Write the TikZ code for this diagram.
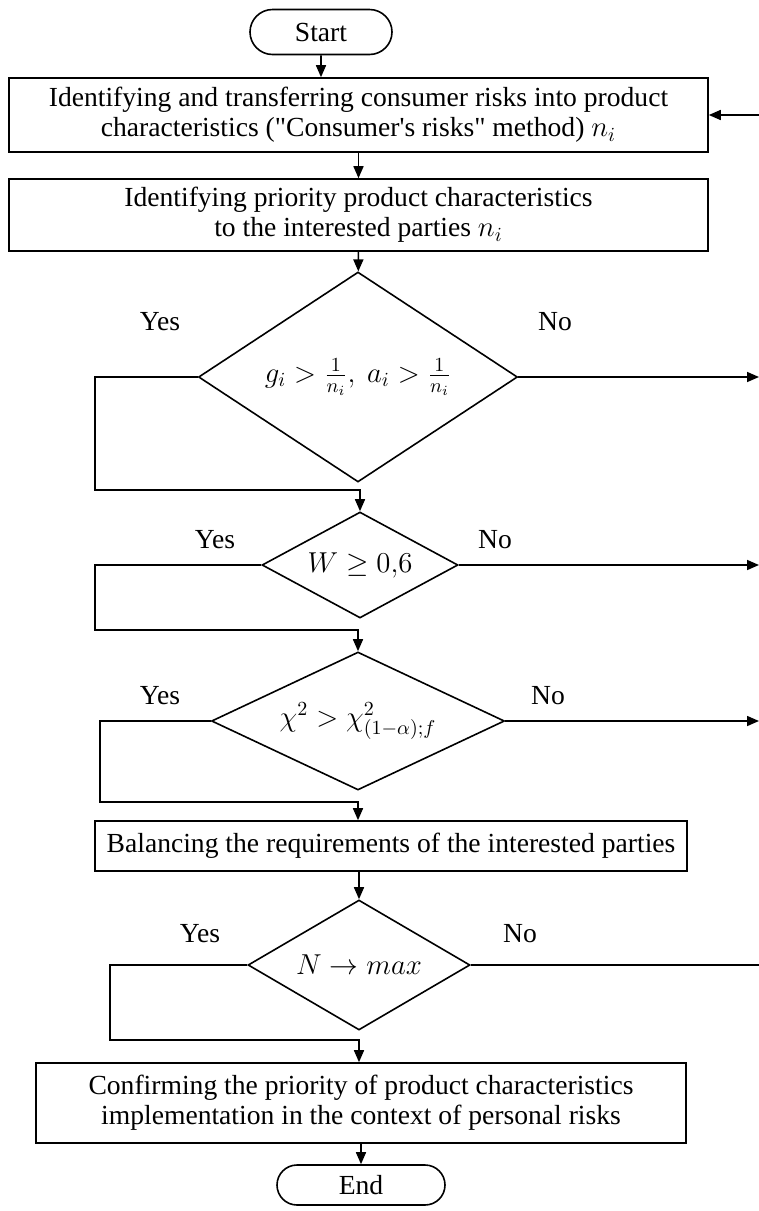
\documentclass[tikz,border=0pt]{standalone}
\usepackage{fontspec}
\setmainfont{Liberation Serif}
\newfontfamily\plainquote{Liberation Serif}
\usetikzlibrary{shapes.geometric,shapes.misc,arrows.meta}

\tikzset{
	arr/.style={line width=0.8pt,-{Triangle[length=6pt,width=5pt]}},
	line/.style={line width=0.8pt},
	procbox/.style={draw,line width=0.8pt,rectangle,align=center,inner sep=0pt},
	decision/.style={draw,line width=0.8pt,diamond,inner sep=0pt},
	terminal/.style={draw,line width=0.8pt,rounded rectangle,inner sep=0pt},
}

\begin{document}
\begin{tikzpicture}[x=0.5pt,y=-0.5pt,font=\fontsize{13.8}{15}\selectfont]
				\useasboundingbox (0,0) rectangle (759,1211);
				
				\node[terminal,minimum width=71pt,minimum height=22.5pt] (start) at (321,32) {Start};
				
				\node[procbox,minimum width=349.5pt,minimum height=37pt] (box1) at (358.5,115)
				{Identifying and transferring consumer risks into product\\characteristics ({\plainquote"Consumer's risks"} method) $n_i$};
				
				\node[procbox,minimum width=349.5pt,minimum height=36pt] (box2) at (358.5,215)
				{Identifying priority product characteristics\\to the interested parties $n_i$};
				
				\node[decision,aspect=1.52,minimum width=159.5pt,minimum height=105pt] (d1) at (358,377)
				{$g_i>\frac{1}{n_i},\ a_i>\frac{1}{n_i}$};
				
				\node[decision,aspect=1.85,minimum width=98pt,minimum height=53pt] (d2) at (360,565) {$W\geq 0{,}6$};
				
				\node[decision,aspect=2.12,minimum width=146.5pt,minimum height=69pt] (d3) at (358,721)
				{$\chi^2>\chi^2_{(1-\alpha);f}$};
				
				\node[procbox,minimum width=296pt,minimum height=25pt] (box3) at (391,846)
				{Balancing the requirements of the interested parties};
				
				\node[decision,aspect=1.71,minimum width=111pt,minimum height=65pt] (d4) at (359,965) {$N\rightarrow max$};
				
				\node[procbox,minimum width=325pt,minimum height=40pt] (box4) at (361,1103)
				{Confirming the priority of product characteristics\\implementation in the context of personal risks};
				
				\node[terminal,minimum width=84pt,minimum height=20pt] (end) at (361,1185) {End};
				
				% corners of the Yes loops and free ends on the right
				\coordinate (y1) at (95,490);
				\coordinate (y2) at (95,630);
				\coordinate (y3) at (100,802);
				\coordinate (y4) at (110,1040);
				\coordinate (n1) at (759,377);
				\coordinate (n2) at (759,565);
				\coordinate (n3) at (759,721);
				\coordinate (n4) at (759,965);
				\coordinate (fb) at (759,115);
				
				\node (yes1) at (160,322) {Yes};
				\node (no1) at (555,322) {No};
				\node (yes2) at (215,540) {Yes};
				\node (no2) at (495,540) {No};
				\node (yes3) at (160,696) {Yes};
				\node (no3) at (548,696) {No};
				\node (yes4) at (200,934) {Yes};
				\node (no4) at (520,934) {No};
				
				\draw[arr] (start) -- (start |- box1.north);
				\draw[arr] (fb) -- (box1.east);
				\draw[arr] (box1) -- (box2);
				\draw[arr] (box2) -- (d1);
				\draw[arr] (d1.west) -| (y1) -| (d2.north);
				\draw[arr] (d1.east) -- (n1);
				\draw[arr] (d2.west) -| (y2) -| (d3.north);
				\draw[arr] (d2.east) -- (n2);
				\draw[arr] (d3.west) -| (y3) -| (box3.north -| d3.north);
				\draw[arr] (d3.east) -- (n3);
				\draw[arr] (box3.south -| d4.north) -- (d4.north);
				\draw[arr] (d4.west) -| (y4) -| (box4.north -| d4.north);
				\draw[line] (d4.east) -- (n4);
				\draw[arr] (box4) -- (end);
			\end{tikzpicture}
\end{document}
